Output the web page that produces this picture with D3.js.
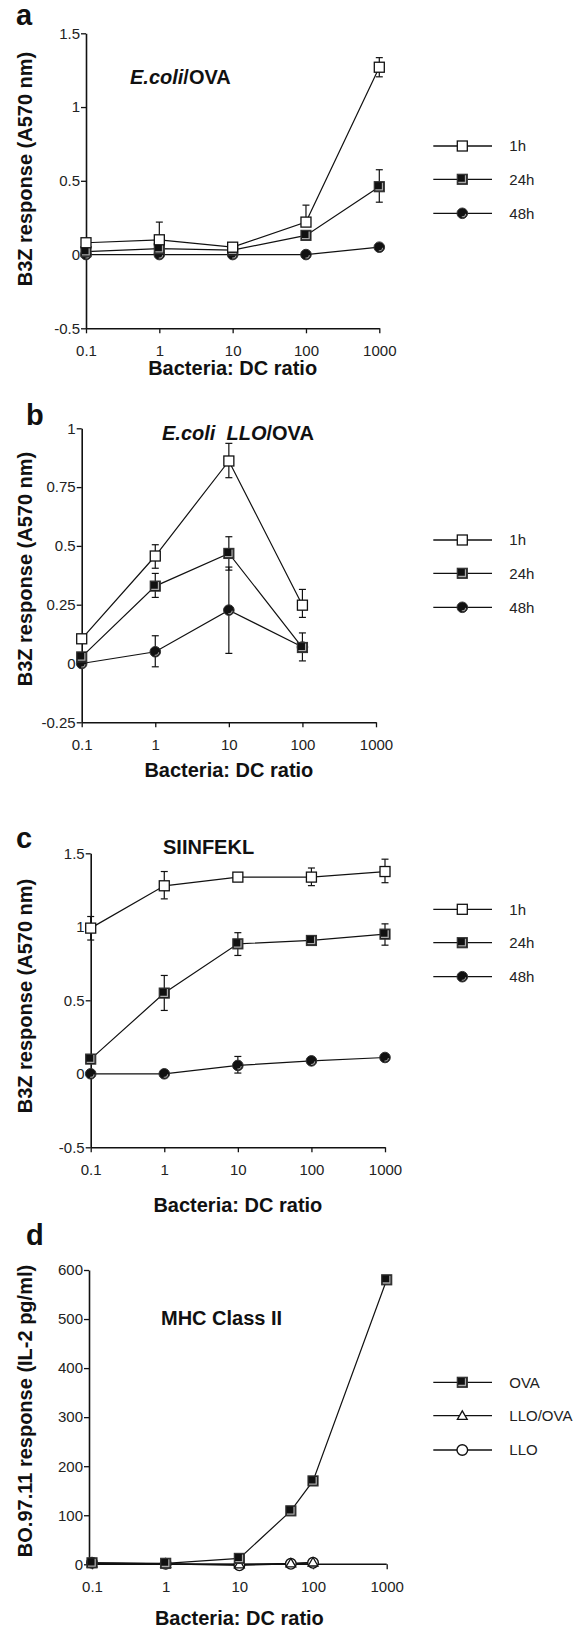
<!DOCTYPE html>
<html>
<head>
<meta charset="utf-8">
<script src="https://cdn.jsdelivr.net/npm/d3@7"></script>
<style>
  body { margin: 0; background: #fff; }
  svg { display: block; font-family: "Liberation Sans", Arial, sans-serif; }
</style>
</head>
<body>
<svg id="chart" width="585" height="1629"></svg>
<script>
// x axis (log) shared by all four panels
const xTicks = [0.1, 1, 10, 100, 1000];
const xTickLabels = ["0.1", "1", "10", "100", "1000"];

// panel a: E.coli/OVA
const aX = [0.1, 1, 10, 100, 1000];
const a1h = [0.08, 0.10, 0.05, 0.22, 1.27];
const a1hHi = [null, 0.22, null, 0.335, 1.335];
const a1hLo = [null, null, null, null, 1.205];
const a24h = [0.02, 0.04, 0.03, 0.13, 0.46];
const a24hHi = [null, null, null, null, 0.575];
const a24hLo = [null, null, null, null, 0.355];
const a48h = [0, 0, 0, 0, 0.05];
const aYTicks = [-0.5, 0, 0.5, 1, 1.5];
const aYLabels = ["-0.5", "0", "0.5", "1", "1.5"];

// panel b: E.coli LLO/OVA
const bX = [0.1, 1, 10, 100];
const b1h = [0.105, 0.457, 0.861, 0.248];
const b1hHi = [null, 0.505, 0.936, 0.315];
const b1hLo = [null, 0.405, 0.79, 0.196];
const b24h = [0.028, 0.329, 0.468, 0.068];
const b24hHi = [null, 0.383, 0.539, 0.13];
const b24hLo = [null, 0.281, 0.397, 0.011];
const b48h = [0, 0.05, 0.227, 0.07];
const b48hHi = [null, 0.118, 0.41, null];
const b48hLo = [null, -0.014, 0.043, null];
const bYTicks = [-0.25, 0, 0.25, 0.5, 0.75, 1];
const bYLabels = ["-0.25", "0", "0.25", "0.5", "0.75", "1"];

// panel c: SIINFEKL
const cX = [0.1, 1, 10, 100, 1000];
const c1h = [0.991, 1.279, 1.338, 1.338, 1.376];
const c1hHi = [1.07, 1.376, null, 1.40, 1.46];
const c1hLo = [0.91, 1.19, null, 1.28, 1.30];
const c24h = [0.10, 0.549, 0.884, 0.907, 0.95];
const c24hHi = [null, 0.669, 0.96, null, 1.02];
const c24hLo = [null, 0.431, 0.805, null, 0.875];
const c48h = [0, 0, 0.057, 0.088, 0.111];
const c48hHi = [null, null, 0.118, null, null];
const c48hLo = [null, null, 0.005, null, null];

// panel d: MHC Class II
const dXOva = [0.1, 1, 10, 50, 100, 1000];
const dOva = [3, 2, 12, 109, 170, 580];
const dX = [0.1, 1, 10, 50, 100];
const dLloOva = [2, 1, 0, 2, 4];
const dLlo = [3, 1, -2, 1, 3];
const dYTicks = [0, 100, 200, 300, 400, 500, 600];
const dYLabels = ["0", "100", "200", "300", "400", "500", "600"];

const timeNames = ["1h", "24h", "48h"];
const dNames = ["OVA", "LLO/OVA", "LLO"];

const panels = [
    {
        letter: "a", letterX: 16, letterY: 25,
        title: [["E.coli", true], ["/OVA", false]], titleX: 130, titleY: 84,
        left: 86, right: 379.3, top: 33.3, bottom: 328.3, axisY: 328.3,
        yDomain: [-0.5, 1.5], yTicks: aYTicks, yLabels: aYLabels,
        xTitleY: 375, yTitleY: 169, legendY: [146, 179.3, 213.3], legendNames: timeNames,
        series: [
            { shape: "filledCircle", x: aX, y: a48h },
            { shape: "filledSquare", x: aX, y: a24h, hi: a24hHi, lo: a24hLo },
            { shape: "openSquare", x: aX, y: a1h, hi: a1hHi, lo: a1hLo }
        ],
        legendShapes: ["openSquare", "filledSquare", "filledCircle"]
    },
    {
        letter: "b", letterX: 26, letterY: 425,
        title: [["E.coli  LLO", true], ["/OVA", false]], titleX: 162, titleY: 440,
        left: 81.7, right: 376, top: 428.3, bottom: 722.3, axisY: 722.3,
        yDomain: [-0.25, 1], yTicks: bYTicks, yLabels: bYLabels,
        xTitleY: 777, yTitleY: 569, legendY: [540, 573.3, 607.3], legendNames: timeNames,
        series: [
            { shape: "filledCircle", x: bX, y: b48h, hi: b48hHi, lo: b48hLo },
            { shape: "filledSquare", x: bX, y: b24h, hi: b24hHi, lo: b24hLo },
            { shape: "openSquare", x: bX, y: b1h, hi: b1hHi, lo: b1hLo }
        ],
        legendShapes: ["openSquare", "filledSquare", "filledCircle"]
    },
    {
        letter: "c", letterX: 16, letterY: 848,
        title: [["SIINFEKL", false]], titleX: 163, titleY: 854,
        left: 90.7, right: 385, top: 853.3, bottom: 1147.3, axisY: 1147.3,
        yDomain: [-0.5, 1.5], yTicks: aYTicks, yLabels: aYLabels,
        xTitleY: 1212, yTitleY: 996, legendY: [909.3, 942.7, 976.7], legendNames: timeNames,
        series: [
            { shape: "filledCircle", x: cX, y: c48h, hi: c48hHi, lo: c48hLo },
            { shape: "filledSquare", x: cX, y: c24h, hi: c24hHi, lo: c24hLo },
            { shape: "openSquare", x: cX, y: c1h, hi: c1hHi, lo: c1hLo }
        ],
        legendShapes: ["openSquare", "filledSquare", "filledCircle"]
    },
    {
        letter: "d", letterX: 26, letterY: 1245,
        title: [["MHC Class II", false]], titleX: 161, titleY: 1325,
        left: 92, right: 386.7, top: 1270, bottom: 1564.3, axisY: 1564.3, yAxisX: 89,
        yDomain: [0, 600], yTicks: dYTicks, yLabels: dYLabels,
        xTitleY: 1625, yTitleY: 1411, legendY: [1382.3, 1415.7, 1450], legendNames: dNames,
        series: [
            { shape: "openCircle", x: dX, y: dLlo },
            { shape: "openTriangle", x: dX, y: dLloOva },
            { shape: "filledSquare", x: dXOva, y: dOva }
        ],
        legendShapes: ["filledSquare", "openTriangle", "openCircle"]
    }
];

const svg = d3.select("#chart");
const ink = "#111";

function drawMarker(g, shape, cx, cy) {
    if (shape === "openSquare") {
        g.append("rect").attr("x", cx - 5).attr("y", cy - 5).attr("width", 10).attr("height", 10)
            .attr("fill", "#fff").attr("stroke", ink).attr("stroke-width", 1.3);
    } else if (shape === "filledSquare") {
        g.append("rect").attr("x", cx - 5).attr("y", cy - 5).attr("width", 10).attr("height", 10)
            .attr("fill", ink).attr("stroke", "#333").attr("stroke-width", 1.2);
        g.append("path")
            .attr("d", `M${cx - 4},${cy + 3.2}L${cx + 3.2},${cy + 3.2}L${cx + 3.2},${cy - 4}`)
            .attr("fill", "none").attr("stroke", "#aaa").attr("stroke-width", 1.3);
    } else if (shape === "filledCircle") {
        g.append("circle").attr("cx", cx).attr("cy", cy).attr("r", 5.3)
            .attr("fill", ink).attr("stroke", "#333").attr("stroke-width", 1);
        const arc = d3.arc().innerRadius(3).outerRadius(4).startAngle(Math.PI * 0.55).endAngle(Math.PI * 1.05);
        g.append("path").attr("transform", `translate(${cx},${cy})`).attr("d", arc()).attr("fill", "#999");
    } else if (shape === "openCircle") {
        g.append("circle").attr("cx", cx).attr("cy", cy).attr("r", 5.3)
            .attr("fill", "#fff").attr("stroke", ink).attr("stroke-width", 1.4);
    } else if (shape === "openTriangle") {
        g.append("path").attr("transform", `translate(${cx},${cy + 0.8})`)
            .attr("d", d3.symbol(d3.symbolTriangle, 42)())
            .attr("fill", "#fff").attr("stroke", ink).attr("stroke-width", 1.3);
    }
}

panels.forEach(p => {
    const x = d3.scaleLog().domain([0.1, 1000]).range([p.left, p.right]);
    const y = d3.scaleLinear().domain(p.yDomain).range([p.bottom, p.top]);
    const yAxisX = p.yAxisX !== undefined ? p.yAxisX : p.left;

    // axes
    const gy = svg.append("g").attr("transform", `translate(${yAxisX},0)`)
        .call(d3.axisLeft(y).tickValues(p.yTicks).tickFormat((d, i) => p.yLabels[i])
            .tickSize(5).tickSizeOuter(0).tickPadding(1));
    const gx = svg.append("g").attr("transform", `translate(0,${p.axisY})`)
        .call(d3.axisBottom(x).tickValues(xTicks).tickFormat((d, i) => xTickLabels[i])
            .tickSize(5).tickSizeOuter(0).tickPadding(12));
    if (p.yAxisX !== undefined) {
        gx.select(".domain").attr("d", `M${yAxisX},0H${p.right}`);
    }
    [gx, gy].forEach(g => {
        g.attr("font-family", null).attr("font-size", null);
        g.select(".domain").attr("stroke", ink).attr("stroke-width", 1.6);
        g.selectAll(".tick line").attr("stroke", ink).attr("stroke-width", 1.3);
        g.selectAll(".tick text").attr("fill", "#222").style("font-size", "15px");
    });

    // panel letter
    svg.append("text").attr("x", p.letterX).attr("y", p.letterY)
        .attr("font-size", 29).attr("font-weight", "bold").attr("fill", ink).text(p.letter);

    // inner title
    const t = svg.append("text").attr("x", p.titleX).attr("y", p.titleY)
        .attr("font-size", 20).attr("font-weight", "bold").attr("fill", ink)
        .attr("xml:space", "preserve").style("white-space", "pre");
    p.title.forEach(([s, it]) => t.append("tspan").attr("font-style", it ? "italic" : "normal").text(s));

    // axis titles
    svg.append("text").attr("x", (p.left + p.right) / 2).attr("y", p.xTitleY)
        .attr("text-anchor", "middle").attr("font-size", 20).attr("font-weight", "bold")
        .attr("fill", ink).text("Bacteria: DC ratio");
    svg.append("text").attr("transform", `translate(32,${p.yTitleY}) rotate(-90)`)
        .attr("text-anchor", "middle").attr("font-size", 20).attr("font-weight", "bold")
        .attr("fill", ink)
        .text(p.letter === "d" ? "BO.97.11 response (IL-2 pg/ml)" : "B3Z response (A570 nm)");

    // lines
    const line = d3.line().x(d => x(d[0])).y(d => y(d[1]));
    p.series.forEach(s => {
        svg.append("path").datum(s.x.map((v, i) => [v, s.y[i]]))
            .attr("d", line).attr("fill", "none").attr("stroke", ink).attr("stroke-width", 1.2);
    });

    // error bars
    p.series.forEach(s => {
        [s.hi, s.lo].forEach(ends => {
            if (!ends) return;
            ends.forEach((e, i) => {
                if (e === null) return;
                const cx = x(s.x[i]);
                svg.append("line").attr("x1", cx).attr("x2", cx)
                    .attr("y1", y(s.y[i])).attr("y2", y(e))
                    .attr("stroke", ink).attr("stroke-width", 1.2);
                svg.append("line").attr("x1", cx - 3.5).attr("x2", cx + 3.5)
                    .attr("y1", y(e)).attr("y2", y(e))
                    .attr("stroke", ink).attr("stroke-width", 1.2);
            });
        });
    });

    // markers
    p.series.forEach(s => {
        const g = svg.append("g");
        s.x.forEach((v, i) => drawMarker(g, s.shape, x(v), y(s.y[i])));
    });

    // legend
    p.legendNames.forEach((name, i) => {
        const ly = p.legendY[i];
        svg.append("line").attr("x1", 433.3).attr("x2", 492).attr("y1", ly).attr("y2", ly)
            .attr("stroke", ink).attr("stroke-width", 1.3);
        drawMarker(svg.append("g"), p.legendShapes[i], 462.3, ly);
        svg.append("text").attr("x", 509.3).attr("y", ly).attr("dy", "0.36em")
            .attr("font-size", 15).attr("fill", "#222").text(name);
    });
});
</script>
</body>
</html>
